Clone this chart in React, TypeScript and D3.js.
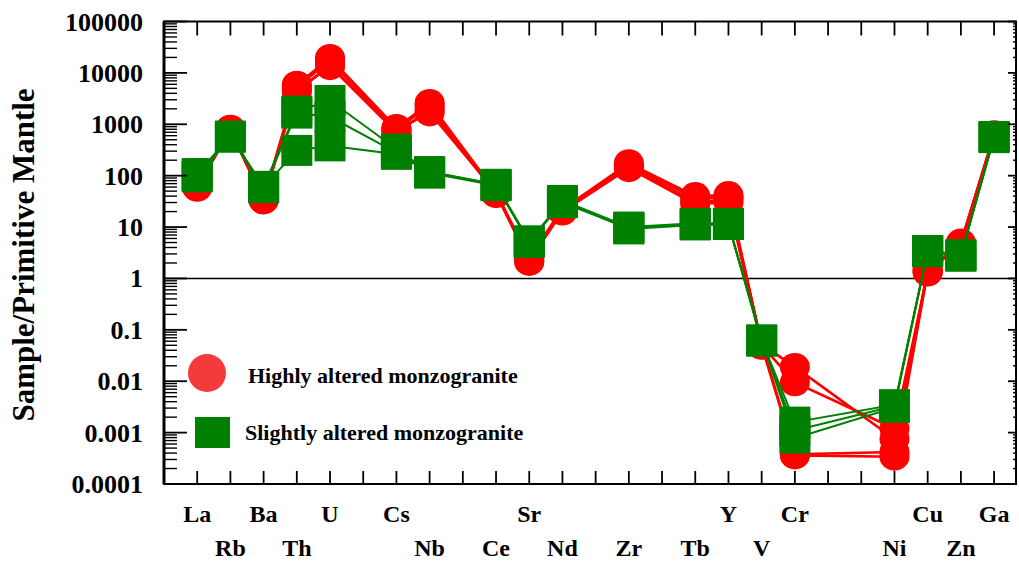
import React from "react";
import * as d3 from "d3";

// Elements on the spider diagram, with their slot on the x axis
const elements = ["La", "Rb", "Ba", "Th", "U", "Cs", "Nb", "Ce", "Sr", "Nd", "Zr", "Tb", "Y", "V", "Cr", "Ni", "Cu", "Zn", "Ga"];
const slots = [1, 2, 3, 4, 5, 7, 8, 10, 11, 12, 14, 16, 17, 18, 19, 22, 23, 24, 25];

// Primitive-mantle normalised values, highly altered monzogranite
const highly1 = [63, 800, 35, 5900, 19500, 850, 2600, 47, 2.1, 22, 175, 40, 42, 0.052, 0.019, 0.00075, 1.4, 5.0, 620];
const highly2 = [60, 760, 33, 5400, 17000, 800, 2300, 44, 2.3, 21, 160, 36, 38, 0.05, 0.0095, 0.0012, 1.3, 4.7, 600];
const highly3 = [58, 820, 37, 4300, 14000, 750, 1700, 48, 2.5, 23, 150, 31, 34, 0.054, 0.00038, 0.00042, 1.5, 4.4, 580];
const highly4 = [66, 780, 34, 4700, 13500, 700, 1900, 45, 2.2, 20, 140, 28, 30, 0.049, 0.00036, 0.00034, 1.35, 4.8, 640];

// Primitive-mantle normalised values, slightly altered monzogranite
const slightly1 = [110, 590, 62, 1800, 2900, 330, 118, 68, 5.2, 33, 10.0, 11.8, 11.8, 0.062, 0.0016, 0.0035, 3.5, 2.9, 570];
const slightly2 = [100, 560, 58, 1650, 1400, 280, 112, 64, 5.0, 31, 9.2, 11.0, 11.2, 0.06, 0.0011, 0.0033, 3.3, 2.8, 550];
const slightly3 = [95, 575, 60, 310, 380, 260, 120, 66, 5.4, 30, 9.6, 11.4, 11.5, 0.064, 0.00078, 0.0031, 3.4, 2.7, 580];

const yTickValues = [1e5, 1e4, 1e3, 100, 10, 1, 0.1, 0.01, 0.001, 0.0001];
const yTickLabels = ["100000", "10000", "1000", "100", "10", "1", "0.1", "0.01", "0.001", "0.0001"];

const legendLabels = ["Highly altered monzogranite", "Slightly altered monzogranite"];
const yTitle = "Sample/Primitive Mantle";

const RED = "#ff0000";
const GREEN = "#008000";
const FONT = "'Liberation Serif', 'Times New Roman', serif";

const W = 1019;
const H = 564;
const left = 164;
const right = 1016;
const top = 21.5;
const bottom = 484;

export default function App() {
  const x = d3.scaleLinear().domain([0, 25.66]).range([left, right]);
  const y = d3.scaleLog().domain([1e-4, 1e5]).range([bottom, top]);

  const line = d3
    .line<number>()
    .x((_, i) => x(slots[i]))
    .y((v) => y(v));

  const minor: number[] = [];
  for (let e = -4; e < 5; e++) {
    for (let k = 2; k <= 9; k++) minor.push(k * Math.pow(10, e));
  }
  const xTicks = d3.range(1, 26);

  const highly = [highly1, highly2, highly3, highly4];
  const slightly = [slightly1, slightly2, slightly3];
  const sq = 31;

  return (
    <svg width={W} height={H} style={{ position: "absolute", left: 0, top: 0, background: "#fff" }}>
      <rect x={0} y={0} width={W} height={H} fill="#fff" />

      {/* unity reference line */}
      <line x1={left} x2={right} y1={y(1)} y2={y(1)} stroke="#000" strokeWidth={1.6} />

      {/* highly altered samples */}
      <g>
        {highly.map((s, i) => (
          <path key={"hl" + i} d={line(s) || ""} fill="none" stroke={RED} strokeWidth={2.6} />
        ))}
        {highly.map((s, i) =>
          s.map((v, j) => (
            <ellipse key={"hc" + i + "-" + j} cx={x(slots[j])} cy={y(v)} rx={15} ry={14} fill={RED} />
          ))
        )}
      </g>

      {/* slightly altered samples */}
      <g>
        {slightly.map((s, i) => (
          <path key={"sl" + i} d={line(s) || ""} fill="none" stroke={GREEN} strokeWidth={2} />
        ))}
        {slightly.map((s, i) =>
          s.map((v, j) => (
            <rect key={"ss" + i + "-" + j} x={x(slots[j]) - sq / 2} y={y(v) - sq / 2} width={sq} height={sq} fill={GREEN} />
          ))
        )}
      </g>

      {/* frame */}
      <rect x={left} y={top} width={right - left} height={bottom - top} fill="none" stroke="#000" strokeWidth={2} />
      <line x1={left} x2={left} y1={top} y2={bottom} stroke="#000" strokeWidth={3} />

      {/* y ticks, left (inward) and right (inward) */}
      {yTickValues.map((v) => (
        <g key={"yt" + v}>
          <line x1={left} x2={left + 23} y1={y(v)} y2={y(v)} stroke="#000" strokeWidth={1.8} />
          <line x1={right} x2={right - 8} y1={y(v)} y2={y(v)} stroke="#000" strokeWidth={1.8} />
        </g>
      ))}
      {minor.map((v) => (
        <g key={"ym" + v}>
          <line x1={left} x2={left + 13} y1={y(v)} y2={y(v)} stroke="#000" strokeWidth={1.4} />
          <line x1={right} x2={right - 3} y1={y(v)} y2={y(v)} stroke="#000" strokeWidth={1.4} />
        </g>
      ))}

      {/* x ticks, top and bottom (inward) */}
      {xTicks.map((t) => (
        <g key={"xt" + t}>
          <line x1={x(t)} x2={x(t)} y1={top} y2={top + 14} stroke="#000" strokeWidth={1.8} />
          <line x1={x(t)} x2={x(t)} y1={bottom} y2={bottom - 13} stroke="#000" strokeWidth={1.8} />
        </g>
      ))}

      {/* y tick labels */}
      {yTickValues.map((v, i) => (
        <text
          key={"yl" + v}
          x={143}
          y={y(v) + 9}
          textAnchor="end"
          fontFamily={FONT}
          fontWeight="bold"
          fontSize={26}
          fill="#000"
        >
          {yTickLabels[i]}
        </text>
      ))}

      {/* element labels, staggered on two rows */}
      {elements.map((el, i) => (
        <text
          key={"xl" + el}
          x={x(slots[i])}
          y={slots[i] % 2 === 1 ? 522 : 556}
          textAnchor="middle"
          fontFamily={FONT}
          fontWeight="bold"
          fontSize={24}
          fill="#000"
        >
          {el}
        </text>
      ))}

      {/* y axis title */}
      <text
        transform={`translate(34,255) rotate(-90)`}
        textAnchor="middle"
        fontFamily={FONT}
        fontWeight="bold"
        fontSize={31}
        fill="#000"
      >
        {yTitle}
      </text>

      {/* legend */}
      <circle cx={207} cy={373} r={19} fill="#f53a3a" />
      <text x={248} y={383} fontFamily={FONT} fontWeight="bold" fontSize={22} fill="#000">
        {legendLabels[0]}
      </text>
      <rect x={195} y={417} width={35} height={31} fill={GREEN} />
      <text x={245} y={440} fontFamily={FONT} fontWeight="bold" fontSize={22} fill="#000">
        {legendLabels[1]}
      </text>
    </svg>
  );
}
